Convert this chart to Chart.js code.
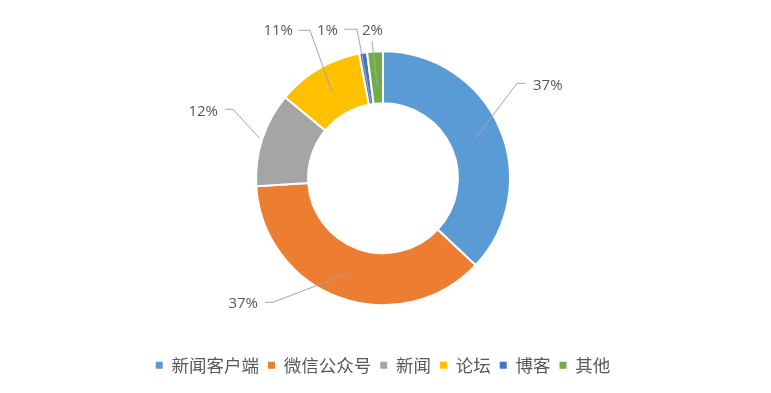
<!DOCTYPE html>
<html>
<head>
<meta charset="utf-8">
<script src="https://cdn.jsdelivr.net/npm/chart.js@4/dist/chart.umd.min.js"></script>
<style>
html,body{margin:0;padding:0;background:#fff;}
#wrap{width:771px;height:393px;}
</style>
</head>
<body>
<div id="wrap"><canvas id="c" width="771" height="393"></canvas></div>
<script>
const categories = ['新闻客户端', '微信公众号', '新闻', '论坛', '博客', '其他'];
const values = [37, 37, 12, 11, 1, 2];
const valueLabels = ['37%', '37%', '12%', '11%', '1%', '2%'];
const colors = ['#5B9BD5', '#ED7D31', '#A5A5A5', '#FFC000', '#4472C4', '#70AD47'];

// leader-line layout (relative to doughnut centre): start radius, elbow, end, text anchor
const labelLayout = [
  {r: 101, elbow: [134, -95], end: [143, -95], text: [150, -93], align: 'left'},
  {r: 101, elbow: [-110, 124], end: [-118, 124], text: [-125, 125], align: 'right'},
  {r: 130, elbow: [-150, -69], end: [-158, -69], text: [-165, -67], align: 'right'},
  {r: 101, elbow: [-73, -148], end: [-85, -148], text: [-90, -148], align: 'right'},
  {r: 77,  elbow: [-26, -149], end: [-39, -149], text: [-45, -148], align: 'right'},
  {r: 93,  elbow: [-11, -137], end: null, text: [-10.5, -148], align: 'center'}
];

const leaderPlugin = {
  id: 'leaders',
  afterDatasetsDraw(chart) {
    const ctx = chart.ctx;
    const meta = chart.getDatasetMeta(0);
    ctx.save();
    meta.data.forEach((arc, i) => {
      const L = labelLayout[i];
      const cx = arc.x, cy = arc.y;
      const mid = (arc.startAngle + arc.endAngle) / 2;
      const sx = cx + Math.cos(mid) * L.r;
      const sy = cy + Math.sin(mid) * L.r;
      ctx.beginPath();
      ctx.strokeStyle = '#A6A6A6';
      ctx.lineWidth = 1;
      ctx.moveTo(sx, sy);
      ctx.lineTo(cx + L.elbow[0], cy + L.elbow[1]);
      if (L.end) ctx.lineTo(cx + L.end[0], cy + L.end[1]);
      ctx.stroke();
      ctx.fillStyle = '#595959';
      ctx.font = '15px "Open Sans", sans-serif';
      ctx.textAlign = L.align;
      ctx.textBaseline = 'middle';
      ctx.fillText(valueLabels[i], cx + L.text[0], cy + L.text[1]);
    });
    ctx.restore();
  }
};

new Chart(document.getElementById('c'), {
  type: 'doughnut',
  data: {
    labels: categories,
    datasets: [{
      data: values,
      backgroundColor: colors,
      borderColor: '#ffffff',
      borderWidth: 2,
      radius: 127,
      cutout: '59%'
    }]
  },
  options: {
    responsive: false,
    animation: false,
    layout: {padding: {top: 9, bottom: 9, left: 0, right: 5}},
    plugins: {
      tooltip: {enabled: false},
      legend: {
        position: 'bottom',
        labels: {
          boxWidth: 7,
          boxHeight: 7,
          padding: 9,
          color: '#595959',
          font: {family: '"Noto Sans CJK SC", sans-serif', size: 17.5},
          generateLabels(chart) {
            return categories.map((c, i) => ({
              text: c,
              fillStyle: colors[i],
              strokeStyle: colors[i],
              lineWidth: 0,
              fontColor: '#595959',
              hidden: false,
              index: i
            }));
          }
        }
      }
    }
  },
  plugins: [leaderPlugin]
});
</script>
</body>
</html>
